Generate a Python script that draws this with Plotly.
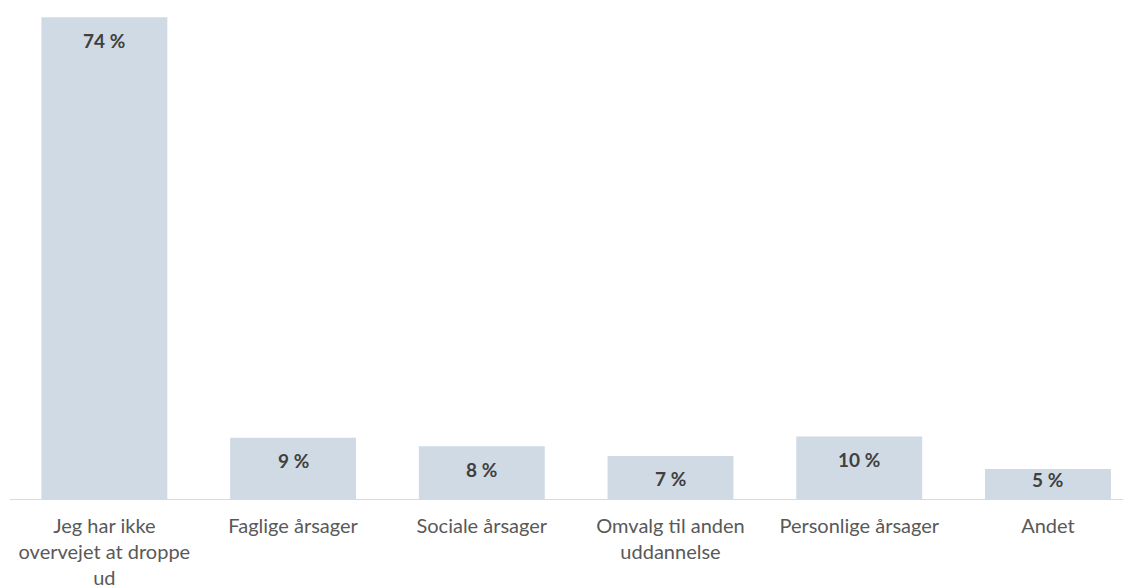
import plotly.graph_objects as go

categories = ["Jeg har ikke<br>overvejet at droppe<br>ud", "Faglige årsager", "Sociale årsager",
              "Omvalg til anden<br>uddannelse", "Personlige årsager", "Andet"]
values = [73.9, 9.4, 8.1, 6.6, 9.6, 4.6]
labels = ["74 %", "9 %", "8 %", "7 %", "10 %", "5 %"]

Y_MAX = 75
PLOT_H = 489
px_per_unit = PLOT_H / Y_MAX

fig = go.Figure()
fig.add_trace(go.Bar(
    x=list(range(len(categories))), y=values,
    marker=dict(color="#cfdae4", line=dict(width=0)),
    width=0.667, hoverinfo="skip"))

for i, (v, t) in enumerate(zip(values, labels)):
    shift = min(23, v * px_per_unit - 19.5)
    fig.add_annotation(x=i, y=v, text="<b>" + t + "</b>", showarrow=False,
                       yshift=-shift, yanchor="middle",
                       font=dict(family="Lato", size=19, color="#404040"))

fig.update_layout(
    width=1131, height=588,
    margin=dict(l=2, r=8, t=2, b=97),
    plot_bgcolor="white", paper_bgcolor="white",
    showlegend=False,
    xaxis=dict(range=[-0.5, 5.44], tickmode="array", tickvals=list(range(len(categories))),
               ticktext=categories, showgrid=False, zeroline=False,
               showline=True, linecolor="#d9d9d9", linewidth=1, ticks="",
               ticklabelstandoff=9,
               tickfont=dict(family="Lato", size=20, color="#595959")),
    yaxis=dict(range=[0, Y_MAX], visible=False, showgrid=False, zeroline=False),
)

fig.write_html("out.html")
